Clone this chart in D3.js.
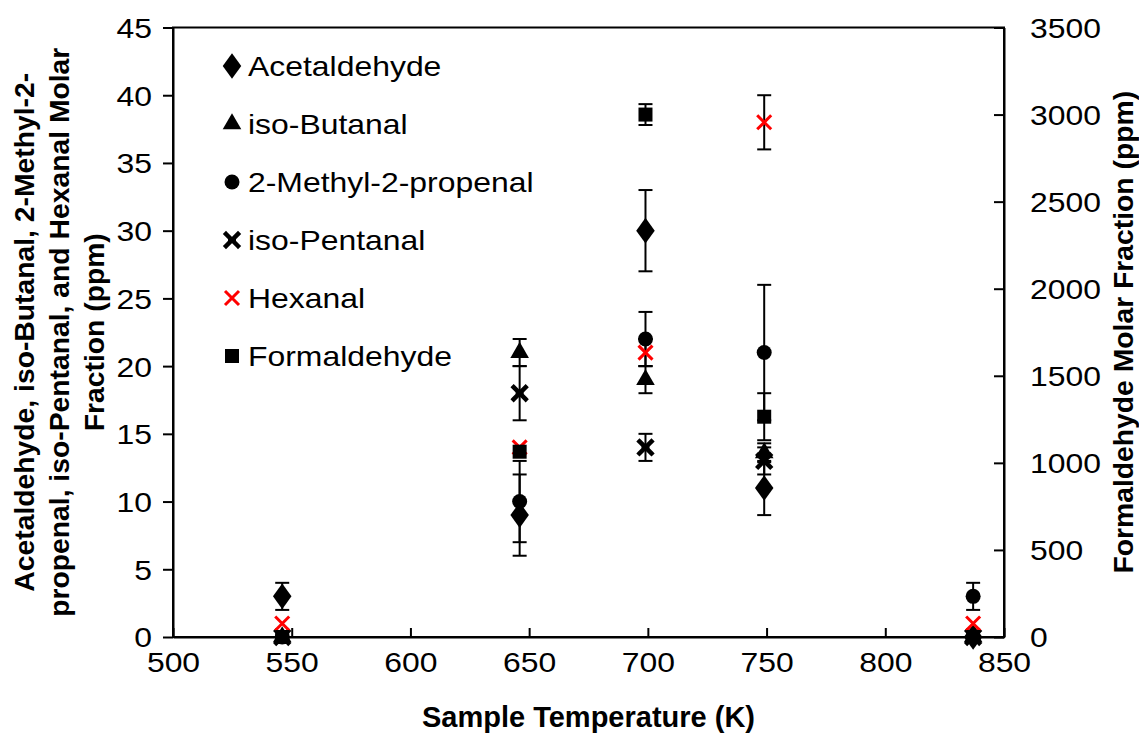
<!DOCTYPE html>
<html><head><meta charset="utf-8">
<script src="https://cdn.jsdelivr.net/npm/d3@7"></script>
<style>body{margin:0;background:#fff;} svg{display:block;font-family:"Liberation Sans",Arial,sans-serif;}</style>
</head><body><svg id="c" width="1139" height="735"></svg>
<script>
const temps = [546, 646, 699, 749, 837];
const acetaldehyde = [3, 9, 30, 11, 0];
const acetaldehydeErr = [1, 3, 3, 2, 0];
const isoButanal = [0, 21, 19, 13.6, 0];
const isoButanalErr = [0, 1, 1, 0.7, 0];
const methylPropenal = [0, 10, 22, 21, 3];
const methylPropenalErr = [0, 3, 2, 5, 1];
const isoPentanal = [0, 18, 14, 13, 0];
const isoPentanalErr = [0, 2, 1, 1, 0];
const hexanal = [1, 14, 21, 38, 1];
const hexanalErr = [0, 0, 1, 2, 0];
const formaldehyde = [0, 1064, 3000, 1265, 0];
const formaldehydeErr = [0, 0, 60, 135, 0];
const xTicks = [500, 550, 600, 650, 700, 750, 800, 850];
const yLeftTicks = [0, 5, 10, 15, 20, 25, 30, 35, 40, 45];
const yRightTicks = [0, 500, 1000, 1500, 2000, 2500, 3000, 3500];

const series = [
  {name: "Acetaldehyde", vals: acetaldehyde, err: acetaldehydeErr, mark: "diamond", axis: "L"},
  {name: "iso-Butanal", vals: isoButanal, err: isoButanalErr, mark: "triangle", axis: "L"},
  {name: "2-Methyl-2-propenal", vals: methylPropenal, err: methylPropenalErr, mark: "circle", axis: "L"},
  {name: "iso-Pentanal", vals: isoPentanal, err: isoPentanalErr, mark: "star", axis: "L"},
  {name: "Hexanal", vals: hexanal, err: hexanalErr, mark: "redx", axis: "L"},
  {name: "Formaldehyde", vals: formaldehyde, err: formaldehydeErr, mark: "square", axis: "R"}
];

const L = 173, R = 1004, T = 27.5, B = 637;
const FS = 28.5, SX = 1.12;
const svg = d3.select("#c");
const x = d3.scaleLinear().domain([500, 850]).range([L, R]);
const yL = d3.scaleLinear().domain([0, 45]).range([B, T]);
const yR = d3.scaleLinear().domain([0, 3500]).range([B, T]);

svg.append("rect").attr("x", L).attr("y", T).attr("width", R - L).attr("height", B - T)
  .attr("fill", "none").attr("stroke", "#000").attr("stroke-width", 2);

const gl = svg.append("g").attr("transform", `translate(${L},0)`)
  .call(d3.axisLeft(yL).tickValues(yLeftTicks).tickSize(10).tickSizeOuter(0));
const gr = svg.append("g").attr("transform", `translate(${R},0)`)
  .call(d3.axisRight(yR).tickValues(yRightTicks).tickFormat(d3.format("d")).tickSize(-10).tickSizeOuter(0));
const gb = svg.append("g").attr("transform", `translate(0,${B})`)
  .call(d3.axisBottom(x).tickValues(xTicks).tickSize(-9).tickSizeOuter(0));
[gl, gr, gb].forEach(g => {
  g.select(".domain").attr("stroke-width", 2);
  g.selectAll(".tick line").attr("stroke-width", 2);
  g.selectAll("text").attr("font-size", FS).attr("font-family", "Liberation Sans, Arial, sans-serif").attr("fill", "#000");
});
gl.selectAll("text").attr("x", -21 / SX).attr("dy", "0.35em").attr("transform", `scale(${SX},1)`);
gr.selectAll("text").attr("x", 26 / SX).attr("dy", "0.35em").attr("transform", `scale(${SX},1)`);
gb.selectAll("text").attr("y", 35).attr("dy", "0").attr("transform", `scale(${SX},1)`);

svg.append("text").attr("x", (L + R) / 2).attr("y", 727).attr("text-anchor", "middle")
  .attr("font-size", 29).attr("font-weight", "bold").text("Sample Temperature (K)");
const lt = svg.append("text").attr("transform", `translate(0,${(T + B) / 2}) rotate(-90)`)
  .attr("text-anchor", "middle").attr("font-size", 28.3).attr("font-weight", "bold");
["Acetaldehyde, iso-Butanal, 2-Methyl-2-", "propenal, iso-Pentanal, and Hexanal Molar", "Fraction (ppm)"]
  .forEach((s, i) => lt.append("tspan").attr("x", 0).attr("y", 34 + i * 35).text(s));
svg.append("text").attr("transform", `translate(1133,${(T + B) / 2}) rotate(-90)`)
  .attr("text-anchor", "middle").attr("font-size", 28.3).attr("font-weight", "bold")
  .text("Formaldehyde Molar Fraction (ppm)");

function drawMarker(g, mark) {
  if (mark === "diamond") g.append("path").attr("d", d3.symbol(d3.symbolDiamond, 190)()).attr("transform","scale(1.25,1)").attr("fill", "#000");
  else if (mark === "triangle") g.append("path").attr("d", d3.symbol(d3.symbolTriangle, 150)()).attr("fill", "#000");
  else if (mark === "circle") g.append("circle").attr("r", 7.5).attr("fill", "#000");
  else if (mark === "square") g.append("rect").attr("x", -7).attr("y", -7).attr("width", 14).attr("height", 14).attr("fill", "#000");
  else if (mark === "star") {
    g.append("path").attr("d", "M-6,-6L6,6M-6,6L6,-6").attr("stroke", "#000").attr("stroke-width", 4.5).attr("stroke-linecap", "square");
    g.append("path").attr("d", "M-4,0L4,0").attr("stroke", "#000").attr("stroke-width", 2);
  } else if (mark === "redx") {
    g.append("path").attr("d", "M-7,-7L7,7M-7,7L7,-7").attr("stroke", "#f00").attr("stroke-width", 3);
  }
}

const plot = svg.append("g");
series.forEach(s => {
  const y = s.axis === "L" ? yL : yR;
  const g = plot.append("g");
  s.vals.forEach((v, i) => {
    const e = s.err[i];
    const cx = x(temps[i]);
    if (e > 0) {
      g.append("line").attr("x1", cx).attr("x2", cx).attr("y1", y(v - e)).attr("y2", y(v + e)).attr("stroke", "#000").attr("stroke-width", 2);
      [v - e, v + e].forEach(w => g.append("line").attr("x1", cx - 7).attr("x2", cx + 7).attr("y1", y(w)).attr("y2", y(w)).attr("stroke", "#000").attr("stroke-width", 2));
    }
  });
  s.vals.forEach((v, i) => {
    drawMarker(g.append("g").attr("transform", `translate(${x(temps[i])},${y(v)})`), s.mark);
  });
});

const lg = svg.append("g");
series.forEach((s, i) => {
  const yy = 66 + i * 58;
  drawMarker(lg.append("g").attr("transform", `translate(232,${yy})`), s.mark);
  lg.append("text").attr("x", 248 / SX).attr("y", yy).attr("dy", "0.35em").attr("font-size", FS)
    .attr("transform", `scale(${SX},1)`).text(s.name);
});
</script></body></html>
